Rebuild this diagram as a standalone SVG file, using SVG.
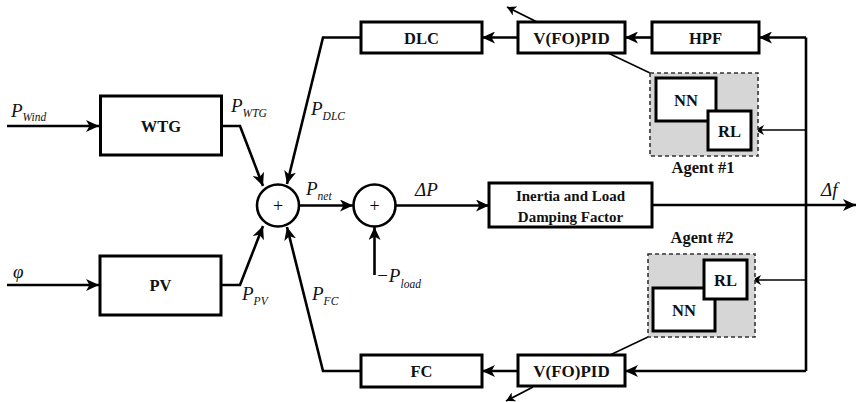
<svg xmlns="http://www.w3.org/2000/svg" width="856" height="402" viewBox="0 0 856 402" font-family="'Liberation Serif', 'Times New Roman', 'DejaVu Serif', serif">
<style>
.box{fill:#fff;stroke:#000;stroke-width:3}
.agent{fill:#d6d6d6;stroke:#333;stroke-width:1.6;stroke-dasharray:4 3}
.ln{fill:none;stroke:#000;stroke-width:2.6}
.thin{fill:none;stroke:#000;stroke-width:1.4}
.sum{fill:#fff;stroke:#000;stroke-width:2.6}
text{font-family:'Liberation Serif', 'Times New Roman', 'DejaVu Serif', serif;fill:#111}
.lbl{font-weight:bold;font-size:16.5px;text-anchor:middle}
.it{font-style:italic;font-size:19px}
.sub{font-size:11.5px}
.plus{font-size:18px;text-anchor:middle;fill:#000}
</style>
<defs>
<marker id="ah" markerUnits="userSpaceOnUse" markerWidth="14" markerHeight="12" refX="13" refY="6" orient="auto">
<path d="M0,0 L13,6 L0,12 L3.5,6 z" fill="#000"/>
</marker>
<marker id="ahs" markerUnits="userSpaceOnUse" markerWidth="10" markerHeight="10" refX="9" refY="5" orient="auto">
<path d="M0,0 L9,5 L0,10 L2.5,5 z" fill="#000"/>
</marker>
</defs>
<rect width="856" height="402" fill="#fff"/>
<g id="connectors">
<line class="ln" x1="7" y1="126" x2="99" y2="126" marker-end="url(#ah)"/>
<line class="ln" x1="7" y1="285" x2="99" y2="285" marker-end="url(#ah)"/>
<polyline class="ln" points="222,126 240,126 263,186" marker-end="url(#ah)"/>
<polyline class="ln" points="221,285 240,285 263,226" marker-end="url(#ah)"/>
<polyline class="ln" points="361,37.5 323,37.5 287,184" marker-end="url(#ah)"/>
<polyline class="ln" points="361,371 323,371 287,227" marker-end="url(#ah)"/>
<line class="ln" x1="299" y1="205.5" x2="353" y2="205.5" marker-end="url(#ah)"/>
<line class="ln" x1="374.5" y1="275" x2="374.5" y2="227" marker-end="url(#ah)"/>
<line class="ln" x1="396" y1="205.5" x2="489" y2="205.5" marker-end="url(#ah)"/>
<line class="ln" x1="652" y1="205" x2="856" y2="205" marker-end="url(#ah)"/>
<line class="ln" x1="806" y1="37.5" x2="806" y2="371"/>
<line class="ln" x1="806" y1="37.5" x2="759" y2="37.5" marker-end="url(#ah)"/>
<line class="ln" x1="806" y1="371" x2="625" y2="371" marker-end="url(#ah)"/>
<line class="ln" x1="652" y1="37.5" x2="625" y2="37.5" marker-end="url(#ah)"/>
<line class="ln" x1="518" y1="37.5" x2="482" y2="37.5" marker-end="url(#ah)"/>
<line class="ln" x1="518" y1="371" x2="482" y2="371" marker-end="url(#ah)"/>
<line class="thin" x1="806" y1="130" x2="755" y2="130" marker-end="url(#ahs)"/>
<line class="thin" x1="806" y1="280" x2="752" y2="280" marker-end="url(#ahs)"/>
<line class="thin" x1="608" y1="53" x2="650" y2="73"/>
<line class="thin" x1="610" y1="355" x2="648" y2="337"/>
<line class="thin" x1="537" y1="22" x2="507" y2="7" marker-end="url(#ahs)" style="stroke-width:1.8"/>
<line class="thin" x1="533" y1="387" x2="506" y2="401" marker-end="url(#ahs)" style="stroke-width:1.8"/>
</g>
<g id="WTG"><rect class="box" x="100.5" y="96" width="121" height="59"/><text class="lbl" x="161" y="132">WTG</text></g>
<g id="PV"><rect class="box" x="100" y="256" width="121" height="59"/><text class="lbl" x="160.5" y="291">PV</text></g>
<g id="DLC"><rect class="box" x="361" y="22" width="121" height="31"/><text class="lbl" x="421.5" y="43.5">DLC</text></g>
<g id="VFOPID1"><rect class="box" x="518" y="22" width="107" height="31"/><text class="lbl" x="571.5" y="43.5" style="font-size:17px">V(FO)PID</text></g>
<g id="HPF"><rect class="box" x="652" y="22" width="107" height="31"/><text class="lbl" x="705.5" y="43.5">HPF</text></g>
<g id="FC"><rect class="box" x="361" y="355" width="121" height="32"/><text class="lbl" x="421.5" y="377">FC</text></g>
<g id="VFOPID2"><rect class="box" x="518" y="355" width="107" height="31"/><text class="lbl" x="571.5" y="376.5" style="font-size:17px">V(FO)PID</text></g>
<g id="Inertia"><rect class="box" x="489" y="183" width="163" height="44"/><text class="lbl" x="570.5" y="201" style="font-size:15px">Inertia and Load</text><text class="lbl" x="570.5" y="222" style="font-size:15px">Damping Factor</text></g>
<g id="Sum1"><circle class="sum" cx="278" cy="205.5" r="21"/><text class="plus" x="278" y="211.5">+</text></g>
<g id="Sum2"><circle class="sum" cx="374.5" cy="205.5" r="21"/><text class="plus" x="374.5" y="211.5">+</text></g>
<g id="Agent1">
<rect class="agent" x="650" y="73" width="108" height="83"/>
<rect class="box" x="656" y="78" width="60" height="43"/><text class="lbl" x="686" y="105.5">NN</text>
<rect class="box" x="708" y="111" width="43" height="39"/><text class="lbl" x="729.5" y="136.5">RL</text>
<text class="lbl" x="703" y="172.5">Agent #1</text>
</g>
<g id="Agent2">
<rect class="agent" x="648" y="254" width="107" height="83"/>
<rect class="box" x="653" y="288" width="62" height="43"/><text class="lbl" x="684" y="315.5">NN</text>
<rect class="box" x="704" y="260" width="43" height="39"/><text class="lbl" x="725.5" y="285.5">RL</text>
<text class="lbl" x="702" y="243">Agent #2</text>
</g>
<g id="labels">
<text class="it" x="11" y="117">P<tspan class="sub" dy="4">Wind</tspan></text>
<text class="it" x="231" y="112">P<tspan class="sub" dy="5">WTG</tspan></text>
<text class="it" x="311" y="115">P<tspan class="sub" dy="5">DLC</tspan></text>
<text class="it" x="306" y="195">P<tspan class="sub" dy="5">net</tspan></text>
<text class="it" x="415" y="196">ΔP</text>
<text class="it" x="821" y="196">Δf</text>
<text class="it" x="13" y="278">φ</text>
<text class="it" x="242" y="300">P<tspan class="sub" dy="5">PV</tspan></text>
<text class="it" x="312" y="300">P<tspan class="sub" dy="5">FC</tspan></text>
<text class="it" x="376" y="282">−P<tspan class="sub" dy="6">load</tspan></text>
</g>
</svg>
